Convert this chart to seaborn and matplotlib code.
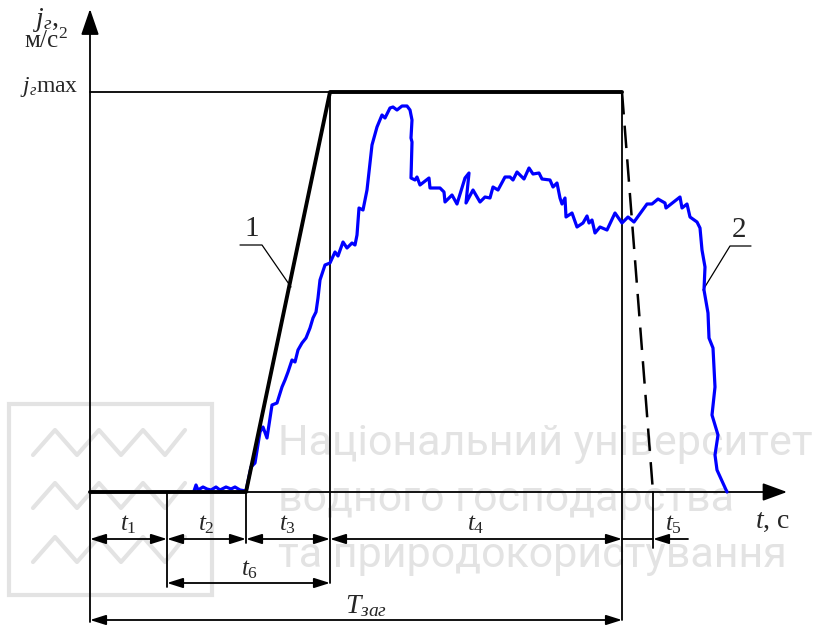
import numpy as np
import pandas as pd
import matplotlib
matplotlib.use("Agg")
import matplotlib.pyplot as plt
import seaborn as sns

sns.set_style("white")
plt.rcParams["font.family"] = ["Liberation Serif", "DejaVu Serif"]
plt.rcParams["mathtext.fontset"] = "custom"
plt.rcParams["mathtext.rm"] = "Liberation Serif"
plt.rcParams["mathtext.it"] = "Liberation Serif:italic"

# межі інтервалів часу (умовні одиниці)
t_marks = [0, 77, 156, 240, 532, 563]
j_max = 400

# ідеальний графік 1
ideal_t = [0, 156, 240, 532]
ideal_j = [0, 0, j_max, j_max]
drop_t = [532, 563]
drop_j = [j_max, 0]

# експериментальна крива 2
exp_t = [104, 106, 108, 113, 117, 121, 126, 130, 136, 141, 145, 150, 156, 161, 165,
         170, 173, 177, 182, 187, 192, 195, 198, 202, 205, 208, 212, 216, 220, 223,
         226, 228, 230, 235, 240, 245, 248, 253, 257, 262, 265, 267, 269, 273, 277,
         282, 287, 292, 295, 300, 303, 307, 312, 317, 320, 322, 321, 322, 321, 325,
         327, 330, 339, 340, 350, 354, 355, 362, 367, 375, 379, 376, 383, 390, 395,
         400, 403, 408, 415, 420, 423, 427, 434, 439, 443, 449, 452, 460, 463, 467,
         470, 472, 475, 476, 482, 487, 493, 497, 499, 502, 505, 510, 517, 525, 532,
         538, 544, 557, 562, 568, 575, 576, 590, 592, 597, 600, 607, 610, 612, 615,
         614, 618, 619, 623, 625, 622, 628, 625, 627, 637]
exp_j = [1, 7, 2, 5, 3, 2, 5, 2, 5, 3, 5, 2, 1, 25, 29,
         60, 65, 54, 87, 89, 105, 112, 120, 132, 130, 142, 149, 154, 164, 174,
         180, 194, 212, 227, 229, 240, 236, 250, 244, 249, 247, 257, 284, 282, 302,
         347, 365, 377, 374, 384, 385, 382, 386, 386, 382, 372, 354, 350, 314, 312,
         315, 307, 314, 304, 304, 300, 290, 297, 288, 314, 319, 289, 302, 290, 295,
         294, 305, 302, 315, 315, 312, 320, 313, 324, 318, 319, 313, 312, 305, 309,
         294, 288, 294, 275, 279, 265, 269, 276, 269, 272, 259, 265, 262, 279, 269,
         275, 270, 288, 288, 293, 289, 284, 295, 284, 288, 275, 270, 264, 242, 225,
         202, 179, 154, 144, 105, 77, 57, 37, 22, 0]

# підписи
dim_labels = ["$t_1$", "$t_2$", "$t_3$", "$t_4$"]
wm_lines = ["Національний університет", "водного господарства", "та природокористування"]

# логотип-водяний знак
logo_x = [-57, -35, -13, 9, 31, 53, 75, 95]
logo_hi = [62, 9, -45]
logo_lo = [37, -16, -70]

fig = plt.figure(figsize=(8.31, 6.3), dpi=100)
ax = fig.add_axes([0, 0, 1, 1])
ax.set_xlim(-90, 741)
ax.set_ylim(-138, 492)
ax.axis("off")

wm = "#e3e3e3"
# водяний знак
ax.add_patch(plt.Rectangle((-81, -103), 203, 191, fill=False, ec=wm, lw=3, zorder=0))
for hi, lo in zip(logo_hi, logo_lo):
    ys = [lo if i % 2 == 0 else hi for i in range(len(logo_x))]
    ax.plot(logo_x, ys, color=wm, lw=3, zorder=0)
for k, line in enumerate(wm_lines):
    ax.text(188, 37 - k * 56, line, family="Roboto", fontsize=31, color=wm,
            ha="left", va="baseline", zorder=0)

thin = 1.3
arr_small = "<|-|>,head_length=0.95,head_width=0.3"

# осі
ax.annotate("", xy=(697, 0), xytext=(0, 0),
            arrowprops=dict(arrowstyle="-|>,head_length=1.5,head_width=0.55", color="k",
                            lw=thin, shrinkA=0, shrinkB=0, mutation_scale=10))
ax.annotate("", xy=(0, 483), xytext=(0, -130),
            arrowprops=dict(arrowstyle="-|>,head_length=1.6,head_width=0.55", color="k",
                            lw=thin, shrinkA=0, shrinkB=0, mutation_scale=10))

# допоміжні лінії
ax.plot([0, 240], [j_max, j_max], color="k", lw=thin)
ax.plot([240, 240], [j_max, -91], color="k", lw=thin)
ax.plot([532, 532], [j_max, -128], color="k", lw=thin)
ax.plot([77, 77], [0, -95], color="k", lw=thin)
ax.plot([156, 156], [0, -51], color="k", lw=thin)
ax.plot([563, 563], [0, -56], color="k", lw=thin)

# розмірні стрілки
y_dim = -47
for i in range(4):
    ax.annotate("", xy=(t_marks[i + 1], y_dim), xytext=(t_marks[i], y_dim),
                arrowprops=dict(arrowstyle=arr_small, color="k", lw=thin,
                                shrinkA=0, shrinkB=0, mutation_scale=10))
    ax.text((t_marks[i] + t_marks[i + 1]) / 2, y_dim + 9, dim_labels[i],
            fontsize=18, ha="center", va="baseline")
ax.plot([532, 563], [y_dim, y_dim], color="k", lw=thin)
ax.annotate("", xy=(563, y_dim), xytext=(598, y_dim),
            arrowprops=dict(arrowstyle="-|>,head_length=0.95,head_width=0.3", color="k",
                            lw=thin, shrinkA=0, shrinkB=0, mutation_scale=10))
ax.text(583, y_dim + 9, "$t_5$", fontsize=18, ha="center", va="baseline")

ax.annotate("", xy=(240, -91), xytext=(77, -91),
            arrowprops=dict(arrowstyle=arr_small, color="k", lw=thin,
                            shrinkA=0, shrinkB=0, mutation_scale=10))
ax.text(160, -83, "$t_6$", fontsize=18, ha="center", va="baseline")

ax.annotate("", xy=(532, -128), xytext=(0, -128),
            arrowprops=dict(arrowstyle=arr_small, color="k", lw=thin,
                            shrinkA=0, shrinkB=0, mutation_scale=10))
ax.text(276, -121, "$T_{заг}$", fontsize=20, ha="center", va="baseline")

# криві
sns.lineplot(x=exp_t, y=exp_j, sort=False, estimator=None, color="#0000ff", lw=2.3,
             ax=ax, zorder=4)
sns.lineplot(x=ideal_t, y=ideal_j, sort=False, estimator=None, color="k", lw=2.8,
             ax=ax, zorder=5)
ax.plot(drop_t, drop_j, color="k", lw=1.8, dashes=(9, 4.5), zorder=5)

# виноски 1 і 2
ax.plot([150, 172, 201], [247, 247, 205], color="k", lw=0.9)
ax.text(162, 250, "1", fontsize=21, ha="center", va="bottom")
ax.plot([661, 640, 613], [246, 246, 202], color="k", lw=0.9)
ax.text(649, 249, "2", fontsize=21, ha="center", va="bottom")

# підписи осей
ax.text(665, -36, "$t$, с", fontsize=20, ha="left", va="baseline")
ax.text(-12, 400, "$j_{г}$max", fontsize=17, ha="right", va="baseline")
ax.text(-44, 466, "$j_{г}$,", fontsize=20, ha="center", va="baseline")
ax.text(-44, 444, "м/с$^2$", fontsize=18, ha="center", va="baseline")

fig.savefig("out.png", dpi=100)
